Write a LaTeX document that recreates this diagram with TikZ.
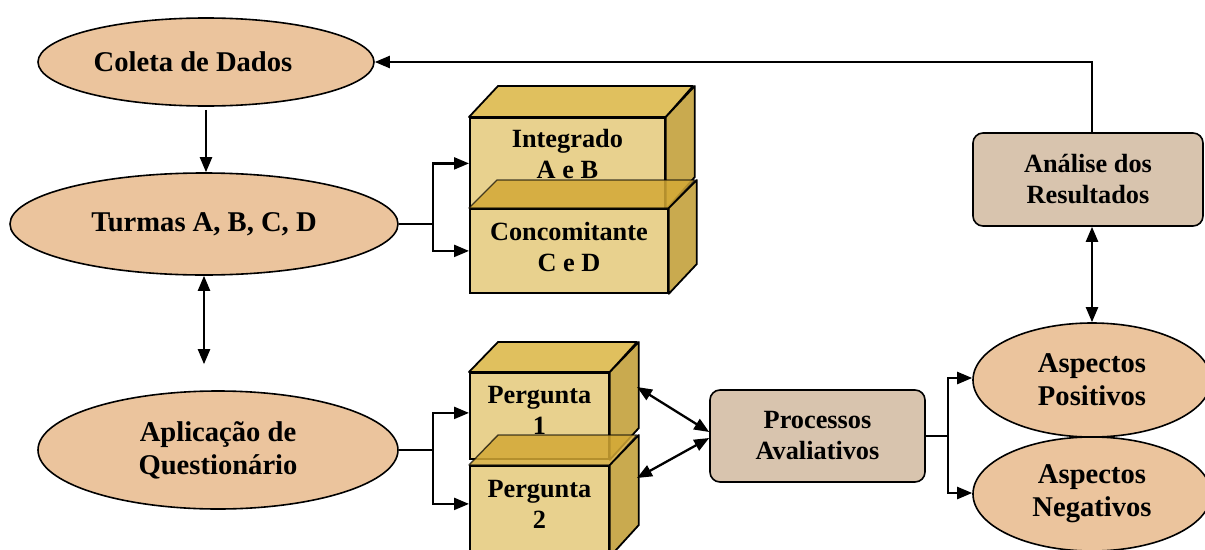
\documentclass[tikz,border=0pt]{standalone}
\usepackage{fontspec}
\setmainfont{Liberation Serif}
\usetikzlibrary{shapes.geometric,arrows.meta,calc}
\definecolor{peach}{HTML}{EBC49D}
\definecolor{tanbox}{HTML}{D8C4AE}
\definecolor{frontc}{HTML}{E8D18E}
\definecolor{topc}{HTML}{E0C05E}
\definecolor{sidec}{HTML}{C9AA4F}
\definecolor{overc}{HTML}{D4A936}
\tikzset{
  ell/.style={ellipse, draw, fill=peach, line width=1.6pt, inner sep=0pt, align=center,
    font=\fontsize{28.6}{33}\selectfont\bfseries},
  rbox/.style={rectangle, rounded corners=10pt, draw, fill=tanbox, line width=1.6pt, inner sep=0pt,
    align=center, font=\fontsize{26.3}{31}\selectfont\bfseries},
  frontface/.style={rectangle, draw, fill=frontc, line width=1.8pt, inner sep=0pt},
  topface/.style={draw, fill=topc, line width=1.8pt, line join=round},
  sideface/.style={draw, fill=sidec, line width=1.8pt, line join=round},
  overface/.style={draw, draw opacity=0.7, fill=overc, fill opacity=0.85, line width=1.4pt, line join=round},
  boxtext/.style={align=center, inner sep=0pt, font=\fontsize{26.3}{31}\selectfont\bfseries},
  conn/.style={line width=2.3pt},
  arr/.style={conn, -{Triangle[length=15pt,width=12pt]}},
  darr/.style={conn, {Triangle[length=15pt,width=12pt]}-{Triangle[length=15pt,width=12pt]}},
}
% #1 top style, #2 name, #3 x, #4 y, #5 w, #6 h, #7 dx, #8 dy
\newcommand\mycuboid[8][topface]{%
  \node[frontface, minimum width=#5pt, minimum height=#6pt, anchor=north west] (#2) at (#3,#4) {};
  \draw[#1] (#2.north west) -- ++(#7,-#8) -- ++(#5,0) -- (#2.north east) -- cycle;
  \draw[sideface] (#2.north east) -- ++(#7,-#8) -- ++(0,#6) -- (#2.south east) -- cycle;
}
\begin{document}
\begin{tikzpicture}[x=1pt,y=-1pt]
\useasboundingbox (0,0) rectangle (1205,549);
\begin{scope}
\clip (0,0) rectangle (1205,549);

% ellipses
\node[ell, minimum width=336pt, minimum height=88pt] (coleta) at (206,62) {Coleta de Dados\hspace*{26pt}};
\node[ell, minimum width=388pt, minimum height=102pt] (turmas) at (204,224) {Turmas A, B, C, D};
\node[ell, minimum width=360pt, minimum height=118pt] (aplic) at (218,450) {Aplicação de\\Questionário};
\node[ell, minimum width=238pt, minimum height=114pt] (apos) at (1092,380) {Aspectos\\Positivos};
\node[ell, minimum width=238pt, minimum height=114pt] (aneg) at (1092,494) {Aspectos\\Negativos};

% rounded boxes
\node[rbox, minimum width=215pt, minimum height=92pt] (proc) at (817.5,436) {Processos\\Avaliativos};
\node[rbox, minimum width=230pt, minimum height=93pt] (anal) at (1088,179.5) {Análise dos\\Resultados};

% cuboids: Integrado / Concomitante
\mycuboid{integ}{469}{117}{195}{91}{29}{31}
\node[boxtext] (integT) at ([yshift=9pt]integ.center) {Integrado\\A e B};
\mycuboid[overface]{conc}{469}{208}{198}{84}{28}{28}
\node[boxtext] (concT) at ([yshift=4pt]conc.center) {Concomitante\\C e D};

% cuboids: Pergunta 1 / 2
\mycuboid{pa}{469}{372}{139}{86}{29}{30}
\node[boxtext] (paT) at ([yshift=6pt]pa.center) {Pergunta\\1};
\mycuboid[overface]{pb}{469}{465}{139}{90}{29}{30}
\node[boxtext] (pbT) at ([yshift=7pt]pb.center) {Pergunta\\2};

% connectors
\draw[arr, shorten <=3pt] (coleta.south) -- (coleta.south |- turmas.north);
\draw[darr, shorten >=26pt] (turmas.south) -- (turmas.south |- aplic.north);

\coordinate (tbr) at (433,224);
\draw[conn] (turmas.east) -- (tbr);
\draw[arr] (tbr) |- (integ.west);
\draw[arr] (tbr) |- (conc.west);

\coordinate (abr) at (433,450);
\draw[conn] (aplic.east) -- (abr);
\draw[arr] (abr) |- ([yshift=3pt]pa.west);
\draw[arr] (abr) |- ([yshift=7pt]pb.west);

\coordinate (par) at (637,387);
\coordinate (pbr) at (637,478);
\draw[darr] (par) -- ([yshift=4pt]proc.west);
\draw[darr] (pbr) -- ([yshift=-2pt]proc.west);

\coordinate (prb) at (948,436);
\draw[conn] (proc.east) -- (prb);
\draw[arr] (prb) |- ([yshift=2pt]apos.west);
\draw[arr] (prb) |- ([yshift=1pt]aneg.west);

\draw[darr] (apos.north) -- (apos.north |- anal.south);
\draw[arr] (apos.north |- anal.north) |- (coleta.east);
\end{scope}
\end{tikzpicture}
\end{document}
